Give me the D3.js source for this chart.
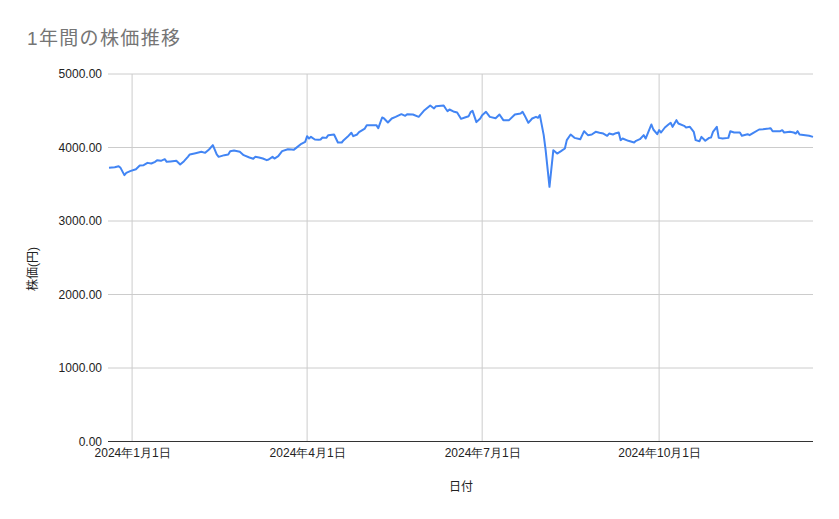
<!DOCTYPE html>
<html>
<head>
<meta charset="utf-8">
<script src="https://cdn.jsdelivr.net/npm/d3@7"></script>
<style>
  body { margin: 0; background: #fff; }
  svg { display: block; font-family: "Liberation Sans", Arial, "Noto Sans CJK JP", sans-serif; }
</style>
</head>
<body>
<svg id="chart" width="839" height="519"></svg>
<script>
// data
const dates = [
  "2023-12-20","2023-12-23","2023-12-25","2023-12-26","2023-12-28","2023-12-29","2023-12-31",
  "2024-01-03","2024-01-05","2024-01-07","2024-01-09","2024-01-11","2024-01-13","2024-01-14",
  "2024-01-16","2024-01-18","2024-01-19","2024-01-21","2024-01-24","2024-01-26","2024-01-28",
  "2024-01-30","2024-01-31","2024-02-03","2024-02-06","2024-02-08","2024-02-10","2024-02-12",
  "2024-02-14","2024-02-15","2024-02-18","2024-02-20","2024-02-21","2024-02-23","2024-02-26",
  "2024-02-28","2024-03-02","2024-03-04","2024-03-05","2024-03-07","2024-03-09","2024-03-11",
  "2024-03-12","2024-03-14","2024-03-15","2024-03-17","2024-03-19","2024-03-22","2024-03-24",
  "2024-03-25","2024-03-27","2024-03-29","2024-03-31","2024-04-01","2024-04-02","2024-04-03",
  "2024-04-05","2024-04-07","2024-04-08","2024-04-09","2024-04-11","2024-04-12","2024-04-15",
  "2024-04-17","2024-04-19","2024-04-20","2024-04-22","2024-04-24","2024-04-25","2024-04-27",
  "2024-04-28","2024-05-01","2024-05-02","2024-05-07","2024-05-08","2024-05-10","2024-05-11",
  "2024-05-13","2024-05-15","2024-05-17","2024-05-20","2024-05-22","2024-05-23","2024-05-26",
  "2024-05-29","2024-06-01","2024-06-04","2024-06-06","2024-06-07","2024-06-11","2024-06-12",
  "2024-06-13","2024-06-14","2024-06-16","2024-06-18","2024-06-20","2024-06-22","2024-06-24",
  "2024-06-25","2024-06-26","2024-06-28","2024-06-30","2024-07-01","2024-07-03","2024-07-05",
  "2024-07-08","2024-07-10","2024-07-12","2024-07-15","2024-07-18","2024-07-21","2024-07-22",
  "2024-07-23","2024-07-25","2024-07-27","2024-07-29","2024-07-30","2024-07-31","2024-08-02",
  "2024-08-03","2024-08-05","2024-08-07","2024-08-09","2024-08-11","2024-08-13","2024-08-14",
  "2024-08-16","2024-08-18","2024-08-21","2024-08-23","2024-08-25","2024-08-27","2024-08-29",
  "2024-08-31","2024-09-02","2024-09-04","2024-09-05","2024-09-07","2024-09-08","2024-09-10",
  "2024-09-11","2024-09-12","2024-09-15","2024-09-18","2024-09-19","2024-09-21","2024-09-23",
  "2024-09-24","2024-09-27","2024-09-28","2024-09-30","2024-10-01","2024-10-02","2024-10-04",
  "2024-10-06","2024-10-07","2024-10-08","2024-10-09","2024-10-10","2024-10-11","2024-10-14",
  "2024-10-15","2024-10-17","2024-10-19","2024-10-20","2024-10-22","2024-10-23","2024-10-25",
  "2024-10-27","2024-10-28","2024-10-29","2024-10-31","2024-11-01","2024-11-03","2024-11-06",
  "2024-11-07","2024-11-09","2024-11-12","2024-11-13","2024-11-16","2024-11-17","2024-11-19",
  "2024-11-22","2024-11-24","2024-11-27","2024-11-28","2024-11-29","2024-12-03","2024-12-04",
  "2024-12-05","2024-12-08","2024-12-10","2024-12-11","2024-12-12","2024-12-13","2024-12-16",
  "2024-12-18","2024-12-20"
];

const prices = [
  3723, 3732, 3746, 3723, 3624, 3655, 3678,
  3705, 3755, 3760, 3791, 3782, 3805, 3828,
  3819, 3841, 3805, 3810, 3819, 3769, 3814,
  3873, 3905, 3923, 3941, 3927, 3973, 4032,
  3905, 3873, 3896, 3905, 3950, 3959, 3941,
  3896, 3864, 3846, 3873, 3864, 3850, 3828,
  3837, 3873, 3850, 3882, 3950, 3977, 3973,
  3968, 4009, 4050, 4077, 4154, 4122, 4145,
  4109, 4104, 4109, 4136, 4131, 4168, 4177,
  4068, 4068, 4100, 4145, 4200, 4154, 4177,
  4209, 4258, 4304, 4304, 4263, 4408, 4395,
  4340, 4395, 4417, 4454, 4431, 4454, 4449,
  4417, 4508, 4571, 4531, 4562, 4571, 4531,
  4494, 4517, 4490, 4476, 4390, 4408, 4426,
  4481, 4499, 4345, 4395, 4440, 4485, 4417,
  4399, 4449, 4372, 4372, 4449, 4463, 4485,
  4440, 4336, 4395, 4417, 4404, 4440, 4168,
  3964, 3465, 3964, 3918, 3950, 3986, 4100,
  4177, 4131, 4113, 4222, 4168, 4177, 4213,
  4200, 4190, 4159, 4190, 4177, 4190, 4204,
  4100, 4122, 4091, 4068, 4091, 4113, 4168,
  4122, 4313, 4245, 4181, 4236, 4204, 4272,
  4317, 4336, 4281, 4327, 4372, 4327, 4295,
  4272, 4281, 4213, 4100, 4086, 4145, 4091,
  4131, 4136, 4213, 4281, 4131, 4122, 4131,
  4222, 4204, 4204, 4159, 4181, 4168, 4200,
  4245, 4249, 4258, 4263, 4222, 4222, 4236,
  4204, 4213, 4204, 4190, 4222, 4177, 4168,
  4159, 4145
];

const xTickDates = ["2024-01-01", "2024-04-01", "2024-07-01", "2024-10-01"];
const yTicks = [0, 1000, 2000, 3000, 4000, 5000];

const title = "1年間の株価推移";
const xTitle = "日付";
const yTitle = "株価(円)";

// layout
const margin = { top: 74, right: 26, bottom: 77.5, left: 109 };
const W = 839, H = 519;
const width = W - margin.left - margin.right;
const height = H - margin.top - margin.bottom;

const parse = d3.timeParse("%Y-%m-%d");
const data = dates.map((d, i) => ({ date: parse(d), value: prices[i] }));

const svg = d3.select("#chart");

const x = d3.scaleTime()
  .domain(d3.extent(data, d => d.date))
  .range([0, width]);

const y = d3.scaleLinear()
  .domain([0, 5000])
  .range([height, 0]);

const g = svg.append("g")
  .attr("transform", `translate(${margin.left},${margin.top})`);

// horizontal gridlines
g.append("g")
  .selectAll("line")
  .data(yTicks.filter(t => t > 0))
  .enter()
  .append("line")
  .attr("x1", -1)
  .attr("x2", width)
  .attr("y1", d => y(d))
  .attr("y2", d => y(d))
  .attr("stroke", "#cccccc")
  .attr("stroke-width", 1);

// vertical gridlines
g.append("g")
  .selectAll("line")
  .data(xTickDates.map(parse))
  .enter()
  .append("line")
  .attr("x1", d => x(d))
  .attr("x2", d => x(d))
  .attr("y1", 0)
  .attr("y2", height)
  .attr("stroke", "#cccccc")
  .attr("stroke-width", 1);

// baseline
g.append("line")
  .attr("x1", -1)
  .attr("x2", width)
  .attr("y1", y(0))
  .attr("y2", y(0))
  .attr("stroke", "#333333")
  .attr("stroke-width", 1);

// y axis labels
const yAxis = g.append("g")
  .call(d3.axisLeft(y).tickValues(yTicks).tickFormat(d3.format(".2f")).tickSize(0).tickPadding(7));
yAxis.select(".domain").remove();
yAxis.selectAll("text")
  .attr("font-size", 12)
  .attr("fill", "#222222")
  .attr("font-family", null);

// x axis labels
const xAxis = g.append("g")
  .attr("transform", `translate(0,${height})`)
  .call(d3.axisBottom(x)
    .tickValues(xTickDates.map(parse))
    .tickFormat(d3.timeFormat("%Y年%-m月%-d日"))
    .tickSize(0)
    .tickPadding(7));
xAxis.select(".domain").remove();
xAxis.selectAll("text")
  .attr("font-size", 12)
  .attr("fill", "#222222")
  .attr("font-family", null);

// price line
g.append("path")
  .datum(data)
  .attr("fill", "none")
  .attr("stroke", "#4285f4")
  .attr("stroke-width", 2)
  .attr("stroke-linejoin", "round")
  .attr("d", d3.line()
    .x(d => x(d.date))
    .y(d => y(d.value)));

// titles
svg.append("text")
  .attr("x", 27)
  .attr("y", 45)
  .attr("font-size", 19)
  .attr("fill", "#757575")
  .attr("textLength", 153)
  .attr("lengthAdjust", "spacing")
  .text(title);

svg.append("text")
  .attr("x", margin.left + width / 2)
  .attr("y", 491)
  .attr("text-anchor", "middle")
  .attr("font-size", 12)
  .attr("fill", "#222222")
  .text(xTitle);

svg.append("text")
  .attr("transform", "translate(37,269) rotate(-90)")
  .attr("text-anchor", "middle")
  .attr("font-size", 12)
  .attr("fill", "#222222")
  .text(yTitle);
</script>
</body>
</html>
